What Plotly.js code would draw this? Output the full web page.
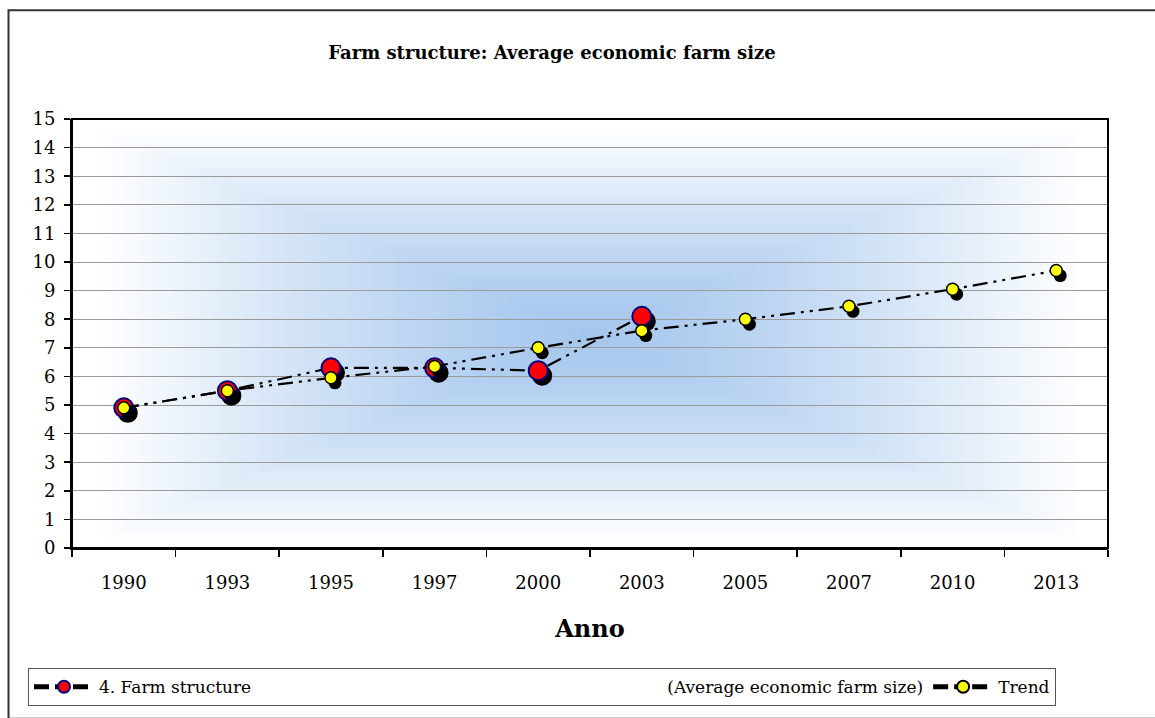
<!DOCTYPE html>
<html>
<head>
<meta charset="utf-8">
<script src="https://cdn.plot.ly/plotly-3.0.1.min.js"></script>
<style>
html,body{margin:0;padding:0;background:#fff;}
#chart{width:1155px;height:718px;}
</style>
</head>
<body>
<div id="chart"></div>
<script>
// ---- data ----
var years = ['1990','1993','1995','1997','2000','2003','2005','2007','2010','2013'];
var farmSize = [4.9, 5.5, 6.3, 6.3, 6.2, 8.1, null, null, null, null];
var trend = [4.9, 5.5, 5.95, 6.35, 7.0, 7.6, 8.0, 8.45, 9.05, 9.7];
var farmName = '4. Farm structure' + '\u00A0'.repeat(77) + '(Average economic farm size)';
var trendName = 'Trend';
var chartTitle = 'Farm structure: Average economic farm size';
var xTitle = 'Anno';

// ---- layout constants ----
var W = 1155, H = 718;
var mL = 72, mR = 47, mT = 119, mB = 167;
var pw = W - mL - mR, ph = H - mT - mB;
var yMax = 15;
var shX = 4, shY = 5; // shadow offset in px
var dx = shX / (pw / years.length);
var dy = shY / (ph / yMax);

// gradient background (rectangular, from centre)
function makeGradient(w, h) {
  var c = document.createElement('canvas');
  c.width = w; c.height = h;
  var ctx = c.getContext('2d');
  var img = ctx.createImageData(w, h);
  var cr = 166, cg = 199, cb = 237;
  for (var j = 0; j < h; j++) {
    for (var i = 0; i < w; i++) {
      var tx = Math.abs(i - w / 2) / (w / 2);
      var ty = Math.abs(j - h / 2) / (h / 2);
      var t = Math.max(tx, ty);
      t = Math.min(1, Math.pow(t * 1.05, 1.3));
      var k = (j * w + i) * 4;
      img.data[k] = Math.round(cr + (255 - cr) * t);
      img.data[k + 1] = Math.round(cg + (255 - cg) * t);
      img.data[k + 2] = Math.round(cb + (255 - cb) * t);
      img.data[k + 3] = 255;
    }
  }
  ctx.putImageData(img, 0, 0);
  return c.toDataURL('image/png');
}

var dash = '15px,6px,3px,6px,3px,6px';
var serif = '"DejaVu Serif", "Liberation Serif", serif';

var traces = [
  { // farm shadow
    x: years, y: farmSize, xaxis: 'x', yaxis: 'y', type: 'scatter', mode: 'markers',
    marker: {size: 20, color: '#000000', line: {width: 0}},
    showlegend: false, hoverinfo: 'skip'
  },
  { // farm structure
    x: years, y: farmSize, xaxis: 'x2', yaxis: 'y2', type: 'scatter', mode: 'lines+markers',
    name: farmName,
    line: {color: '#000000', width: 2.2, dash: dash},
    marker: {size: 19, color: '#ff0000', line: {color: '#000080', width: 2}}
  },
  { // trend shadow
    x: years, y: trend, xaxis: 'x3', yaxis: 'y3', type: 'scatter', mode: 'markers',
    marker: {size: 13, color: '#000000', line: {width: 0}},
    showlegend: false, hoverinfo: 'skip'
  },
  { // trend
    x: years, y: trend, xaxis: 'x4', yaxis: 'y4', type: 'scatter', mode: 'lines+markers',
    name: trendName,
    line: {color: '#000000', width: 2.2, dash: dash},
    marker: {size: 12, color: '#ffff00', line: {color: '#000000', width: 1.5}}
  }
];

function hiddenX(shift, over) {
  var a = {type: 'category', range: [-0.5 - shift, years.length - 0.5 - shift], visible: false, fixedrange: true};
  if (over) a.overlaying = 'x';
  return a;
}
function hiddenY(shift, over) {
  var a = {range: [0 + shift, yMax + shift], visible: false, fixedrange: true};
  if (over) a.overlaying = 'y';
  return a;
}

var layout = {
  width: W, height: H,
  margin: {l: mL, r: mR, t: mT, b: mB, pad: 0},
  paper_bgcolor: '#ffffff',
  plot_bgcolor: 'rgba(0,0,0,0)',
  font: {family: serif, size: 17, color: '#000000'},
  title: {
    text: '<b>' + chartTitle + '</b>',
    font: {family: serif, size: 18, color: '#000000'},
    x: 552 / W, xref: 'container', xanchor: 'center',
    y: 1 - 53 / H, yref: 'container', yanchor: 'middle'
  },
  xaxis: hiddenX(dx, false),
  yaxis: hiddenY(dy, false),
  xaxis3: hiddenX(dx, true),
  yaxis3: hiddenY(dy, true),
  xaxis4: hiddenX(0, true),
  yaxis4: hiddenY(0, true),
  xaxis2: {
    type: 'category', overlaying: 'x', side: 'bottom',
    range: [-0.5, years.length - 0.5], fixedrange: true,
    tickson: 'boundaries', ticks: 'outside', ticklen: 7, tickwidth: 1.5, tickcolor: '#000000',
    ticklabelstandoff: 17,
    showline: true, linecolor: '#000000', linewidth: 2,
    showgrid: false, zeroline: false,
    tickfont: {family: serif, size: 18, color: '#000000'},
    title: {text: '<b>' + xTitle + '</b>', font: {family: serif, size: 24, color: '#000000'}, standoff: 29}
  },
  yaxis2: {
    overlaying: 'y', side: 'left',
    range: [0, yMax], fixedrange: true, dtick: 1, tick0: 0,
    ticks: 'outside', ticklen: 6, tickwidth: 1.5, tickcolor: '#000000',
    ticklabelstandoff: 5,
    showline: true, linecolor: '#000000', linewidth: 2,
    showgrid: true, gridcolor: '#9a9a9a', gridwidth: 1,
    zeroline: false,
    tickfont: {family: serif, size: 18, color: '#000000'}
  },
  legend: {
    orientation: 'h',
    x: (28 - mL) / pw, xanchor: 'left',
    y: -(672 - (H - mB)) / ph, yanchor: 'top',
    bgcolor: '#ffffff', bordercolor: '#555555', borderwidth: 1,
    font: {family: serif, size: 17, color: '#000000'},
    itemwidth: 60, itemsizing: 'constant',
    tracegroupgap: 0
  },
  images: [{
    source: makeGradient(pw, ph),
    xref: 'paper', yref: 'paper', x: 0, y: 1, sizex: 1, sizey: 1,
    sizing: 'stretch', xanchor: 'left', yanchor: 'top', layer: 'below'
  }],
  shapes: [
    { // plot area frame (top & right)
      type: 'rect', xref: 'paper', yref: 'paper', x0: 0, x1: 1, y0: 0, y1: 1,
      line: {color: '#000000', width: 2}, fillcolor: 'rgba(0,0,0,0)', layer: 'above'
    },
    { // outer chart border
      type: 'rect', xref: 'paper', yref: 'paper',
      x0: (8.5 - mL) / pw, x1: (1156 - mL) / pw,
      y0: -(H + 5 - (H - mB)) / ph, y1: ((H - mB) - 9.5) / ph,
      line: {color: '#333333', width: 2}, fillcolor: 'rgba(0,0,0,0)', layer: 'below'
    }
  ],
  hovermode: false,
  showlegend: true
};

Plotly.newPlot('chart', traces, layout, {displayModeBar: false, staticPlot: true});
</script>
</body>
</html>
